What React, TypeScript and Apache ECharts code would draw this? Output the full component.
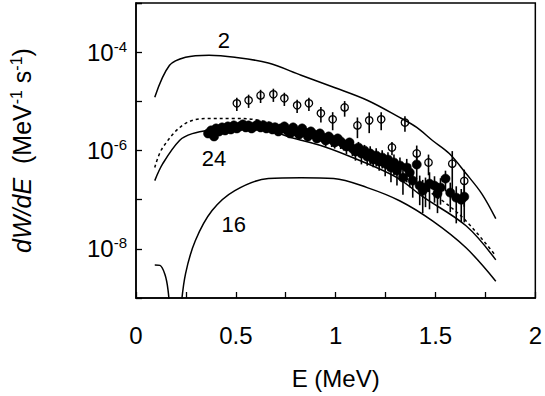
import React, { useEffect, useRef } from "react";
import * as echarts from "echarts";

const FONT = "'Liberation Sans', Arial, Helvetica, sans-serif";

// x axis ticks
const X_MIN = 0;
const X_MAX = 2;
const X_TICK = 0.25;
const Y_MIN = 1e-9;
const Y_MAX = 1e-3;

// theory curve "2"
const C2_E = [0.094, 0.168, 0.248, 0.366, 0.495, 0.663, 0.827, 0.99, 1.158, 1.32, 1.406, 1.485, 1.569, 1.653, 1.733, 1.802];
const C2_V = [1.21e-5, 5.4e-5, 7.9e-5, 8.7e-5, 7.9e-5, 6.0e-5, 3.4e-5, 1.93e-5, 1.05e-5, 4.7e-6, 2.95e-6, 1.6e-6, 8.7e-7, 3.4e-7, 1.3e-7, 4.1e-8];

// theory curve "24"
const C24_E = [0.094, 0.134, 0.218, 0.282, 0.366, 0.53, 0.678, 0.777, 0.94, 1.109, 1.307, 1.436, 1.653, 1.802];
const C24_V = [2.44e-7, 5.4e-7, 1.6e-6, 2.2e-6, 2.56e-6, 2.8e-6, 2.45e-6, 1.84e-6, 1.21e-6, 6.55e-7, 2.81e-7, 1.15e-7, 2.94e-8, 5.97e-9];

// dotted curve
const CD_E = [0.094, 0.134, 0.248, 0.381, 0.48, 0.6, 0.83, 1.0, 1.2, 1.4, 1.535, 1.653, 1.802];
const CD_V = [4.5e-7, 1.15e-6, 3.56e-6, 4.5e-6, 4.5e-6, 4.2e-6, 2.56e-6, 1.39e-6, 5.7e-7, 2.12e-7, 9.5e-8, 3.7e-8, 7.2e-9];

// theory curve "16" (two branches, it crosses zero)
const C16A_E = [0.094, 0.12, 0.145, 0.16, 0.17, 0.176];
const C16A_V = [4.7e-9, 4.6e-9, 3.0e-9, 1.5e-9, 5e-10, 1e-10];
const C16B_E = [0.216, 0.225, 0.248, 0.297, 0.381, 0.495, 0.663, 0.827, 0.99, 1.158, 1.32, 1.485, 1.653, 1.802];
const C16B_V = [1e-10, 6e-10, 3.1e-9, 1.46e-8, 6e-8, 1.53e-7, 2.7e-7, 2.8e-7, 2.7e-7, 1.76e-7, 9.5e-8, 3.7e-8, 1.05e-8, 2.2e-9];

// open data points (relative error)
const OPEN_E = [0.505, 0.564, 0.624, 0.688, 0.743, 0.807, 0.866, 0.926, 0.985, 1.045, 1.109, 1.168, 1.228, 1.282, 1.347, 1.406, 1.465, 1.584, 1.644];
const OPEN_V = [9.1e-6, 1.05e-5, 1.32e-5, 1.39e-5, 1.15e-5, 8.3e-6, 9.1e-6, 5.7e-6, 4.3e-6, 7.5e-6, 3.24e-6, 4.1e-6, 4.3e-6, 1.15e-6, 3.7e-6, 8.7e-7, 5.7e-7, 5.4e-7, 2.4e-7];
const OPEN_R = [0.3, 0.3, 0.3, 0.3, 0.3, 0.3, 0.3, 0.35, 0.4, 0.35, 0.45, 0.45, 0.4, 0.3, 0.35, 0.45, 0.45, 0.8, 0.7];

// filled data points (relative error)
const FILL_E = [0.361, 0.376, 0.391, 0.401, 0.416, 0.431, 0.446, 0.46, 0.475, 0.49, 0.505, 0.52, 0.535, 0.55, 0.564, 0.579, 0.594, 0.609, 0.624, 0.639, 0.653, 0.668, 0.683, 0.698, 0.713, 0.728, 0.743, 0.757, 0.772, 0.787, 0.802, 0.817, 0.832, 0.847, 0.861, 0.876, 0.891, 0.906, 0.921, 0.936, 0.95, 0.965, 0.98, 0.995, 1.01, 1.025, 1.04, 1.054, 1.069, 1.084, 1.099, 1.114, 1.129, 1.144, 1.158, 1.173, 1.188, 1.203, 1.218, 1.233, 1.248, 1.262, 1.277, 1.292, 1.307, 1.322, 1.337, 1.356, 1.371, 1.386, 1.406, 1.421, 1.436, 1.45, 1.47, 1.495, 1.51, 1.525, 1.55, 1.574, 1.604, 1.629, 1.644];
const FILL_V = [2.22e-6, 2.56e-6, 1.93e-6, 2.81e-6, 2.44e-6, 2.95e-6, 2.56e-6, 3.09e-6, 2.68e-6, 3.24e-6, 2.81e-6, 3.09e-6, 3.4e-6, 2.95e-6, 3.24e-6, 2.81e-6, 3.09e-6, 3.4e-6, 2.95e-6, 3.24e-6, 2.81e-6, 3.09e-6, 2.68e-6, 2.95e-6, 2.44e-6, 2.81e-6, 3.09e-6, 2.56e-6, 2.22e-6, 2.95e-6, 2.44e-6, 2.12e-6, 2.81e-6, 2.33e-6, 1.93e-6, 2.44e-6, 2.12e-6, 1.76e-6, 2.22e-6, 1.84e-6, 1.6e-6, 1.93e-6, 1.68e-6, 1.46e-6, 1.76e-6, 1.53e-6, 1.33e-6, 1.21e-6, 1.46e-6, 1.1e-6, 9.55e-7, 1.15e-6, 8.7e-7, 1.0e-6, 7.55e-7, 8.7e-7, 6.55e-7, 7.9e-7, 5.97e-7, 7.2e-7, 5.43e-7, 6.55e-7, 4.5e-7, 5.7e-7, 3.9e-7, 4.94e-7, 2.81e-7, 4.5e-7, 3.56e-7, 2.44e-7, 5.18e-7, 1.93e-7, 1.53e-7, 1.76e-7, 2.12e-7, 1.93e-7, 1.33e-7, 1.76e-7, 2.68e-7, 1.39e-7, 1.1e-7, 1.0e-7, 1.15e-7];
const FILL_R = [
  0.1, 0.1, 0.1, 0.1, 0.1, 0.1, 0.1, 0.1, 0.1, 0.1, 0.1, 0.1, 0.1, 0.1, 0.1, 0.1, 0.1, 0.1, 0.1, 0.1, 0.1, 0.1, 0.1, 0.1, 0.1, 0.1, 0.1, 0.1, 0.1, 0.1,
  0.15, 0.15, 0.15, 0.15, 0.15, 0.15, 0.15, 0.15, 0.15, 0.15,
  0.25, 0.2, 0.3, 0.25, 0.2, 0.3, 0.25, 0.3, 0.2, 0.3,
  0.35, 0.3, 0.4, 0.3, 0.35, 0.4, 0.3, 0.4, 0.35, 0.4,
  0.45, 0.4, 0.5, 0.45, 0.5, 0.45, 0.55, 0.5, 0.5, 0.55,
  0.5, 0.6, 0.65, 0.6, 0.7, 0.55, 0.6, 0.55, 0.45, 0.6, 0.7, 0.65, 0.7,
];

// curve labels
const LABEL_TEXT = ["2", "24", "16"];
const LABEL_E = [0.44, 0.391, 0.49];
const LABEL_V = [1.76e-4, 6.9e-7, 3.1e-8];

const zip = (xs: number[], ys: number[]) => xs.map((x, i) => [x, ys[i]]);
const withErr = (xs: number[], ys: number[], rs: number[]) =>
  xs.map((x, i) => [x, ys[i], ys[i] * (1 - rs[i]), ys[i] * (1 + rs[i])]);

function makeErrRender(filled: boolean) {
  return (params: any, api: any) => {
    const x = api.value(0);
    const p = api.coord([x, api.value(1)]);
    const pl = api.coord([x, api.value(2)]);
    const ph = api.coord([x, api.value(3)]);
    return {
      type: "group",
      children: [
        {
          type: "line",
          shape: { x1: p[0], y1: ph[1], x2: p[0], y2: pl[1] },
          style: { stroke: "#000", lineWidth: 1.6 },
        },
        {
          type: "circle",
          shape: { cx: p[0], cy: p[1], r: filled ? 4.6 : 3.7 },
          style: filled
            ? { fill: "#000", stroke: "#000", lineWidth: 0.5 }
            : { fill: "none", stroke: "#000", lineWidth: 1.3 },
        },
      ],
    };
  };
}

const lineSeries = (data: number[][], dashed = false) => ({
  type: "line",
  data,
  showSymbol: false,
  symbol: "none",
  smooth: 0.35,
  clip: true,
  silent: true,
  lineStyle: { color: "#000", width: 1.5, type: dashed ? [3, 3] : "solid" },
  z: 2,
});

export default function App() {
  const ref = useRef<HTMLDivElement>(null);
  useEffect(() => {
    if (!ref.current) return;
    const chart = echarts.init(ref.current, undefined, { renderer: "svg" });
    chart.setOption({
      animation: false,
      backgroundColor: "#fff",
      grid: {
        left: 133,
        right: 8,
        top: 3,
        bottom: 98,
        show: true,
        borderColor: "#000",
        borderWidth: 1.5,
        backgroundColor: "transparent",
      },
      xAxis: {
        type: "value",
        min: X_MIN,
        max: X_MAX,
        interval: X_TICK,
        name: "E (MeV)",
        nameLocation: "middle",
        nameGap: 68,
        nameTextStyle: { fontFamily: FONT, fontSize: 24, color: "#000" },
        axisLine: { show: true, onZero: false, lineStyle: { color: "#000", width: 1.5 } },
        axisTick: { show: true, inside: true, length: 6, lineStyle: { color: "#000", width: 1.3 } },
        axisLabel: {
          margin: 25,
          fontFamily: FONT,
          fontSize: 24,
          color: "#000",
          formatter: (v: number) => (Math.abs(v / 0.5 - Math.round(v / 0.5)) < 1e-6 ? String(v) : ""),
        },
        splitLine: { show: false },
      },
      yAxis: {
        type: "log",
        logBase: 10,
        min: Y_MIN,
        max: Y_MAX,
        interval: 1,
        name: "{i|dW/dE}  {n|(MeV}{s|-1}{n| s}{s|-1}{n|)}",
        nameLocation: "middle",
        nameRotate: 90,
        nameGap: 100,
        nameTextStyle: {
          fontFamily: FONT,
          fontSize: 25,
          color: "#000",
          rich: {
            i: { fontFamily: FONT, fontSize: 25, fontStyle: "italic", color: "#000" },
            n: { fontFamily: FONT, fontSize: 25, color: "#000" },
            s: { fontFamily: FONT, fontSize: 16, color: "#000", padding: [0, 0, 12, 0] },
          },
        },
        axisLine: { show: true, lineStyle: { color: "#000", width: 1.5 } },
        axisTick: { show: true, inside: true, length: 6, lineStyle: { color: "#000", width: 1.3 } },
        minorTick: { show: false },
        axisLabel: {
          margin: 9,
          fontFamily: FONT,
          color: "#000",
          formatter: (v: number) => {
            const e = Math.round(Math.log10(v));
            return e % 2 === 0 ? `{b|10}{s|${e}}` : "";
          },
          rich: {
            b: { fontFamily: FONT, fontSize: 24, color: "#000" },
            s: { fontFamily: FONT, fontSize: 15, color: "#000", padding: [0, 0, 12, 0] },
          },
        },
        splitLine: { show: false },
      },
      series: [
        lineSeries(zip(C2_E, C2_V)),
        lineSeries(zip(C24_E, C24_V)),
        lineSeries(zip(CD_E, CD_V), true),
        lineSeries(zip(C16A_E, C16A_V)),
        lineSeries(zip(C16B_E, C16B_V)),
        {
          type: "custom",
          renderItem: makeErrRender(true),
          data: withErr(FILL_E, FILL_V, FILL_R),
          encode: { x: 0, y: 1 },
          silent: true,
          z: 3,
        },
        {
          type: "custom",
          renderItem: makeErrRender(false),
          data: withErr(OPEN_E, OPEN_V, OPEN_R),
          encode: { x: 0, y: 1 },
          silent: true,
          z: 4,
        },
        {
          type: "scatter",
          symbolSize: 0,
          silent: true,
          itemStyle: { opacity: 1, color: "#000" },
          data: LABEL_TEXT.map((t, i) => ({ name: t, value: [LABEL_E[i], LABEL_V[i]] })),
          label: {
            show: true,
            position: "inside",
            formatter: (p: any) => p.name,
            fontFamily: FONT,
            fontSize: 22,
            color: "#000",
            opacity: 1,
            textBorderWidth: 0,
          },
          z: 5,
        },
      ],
    });
    return () => chart.dispose();
  }, []);
  return (
    <div
      ref={ref}
      style={{ position: "fixed", left: 0, top: 0, width: 545, height: 396, background: "#fff" }}
    />
  );
}
